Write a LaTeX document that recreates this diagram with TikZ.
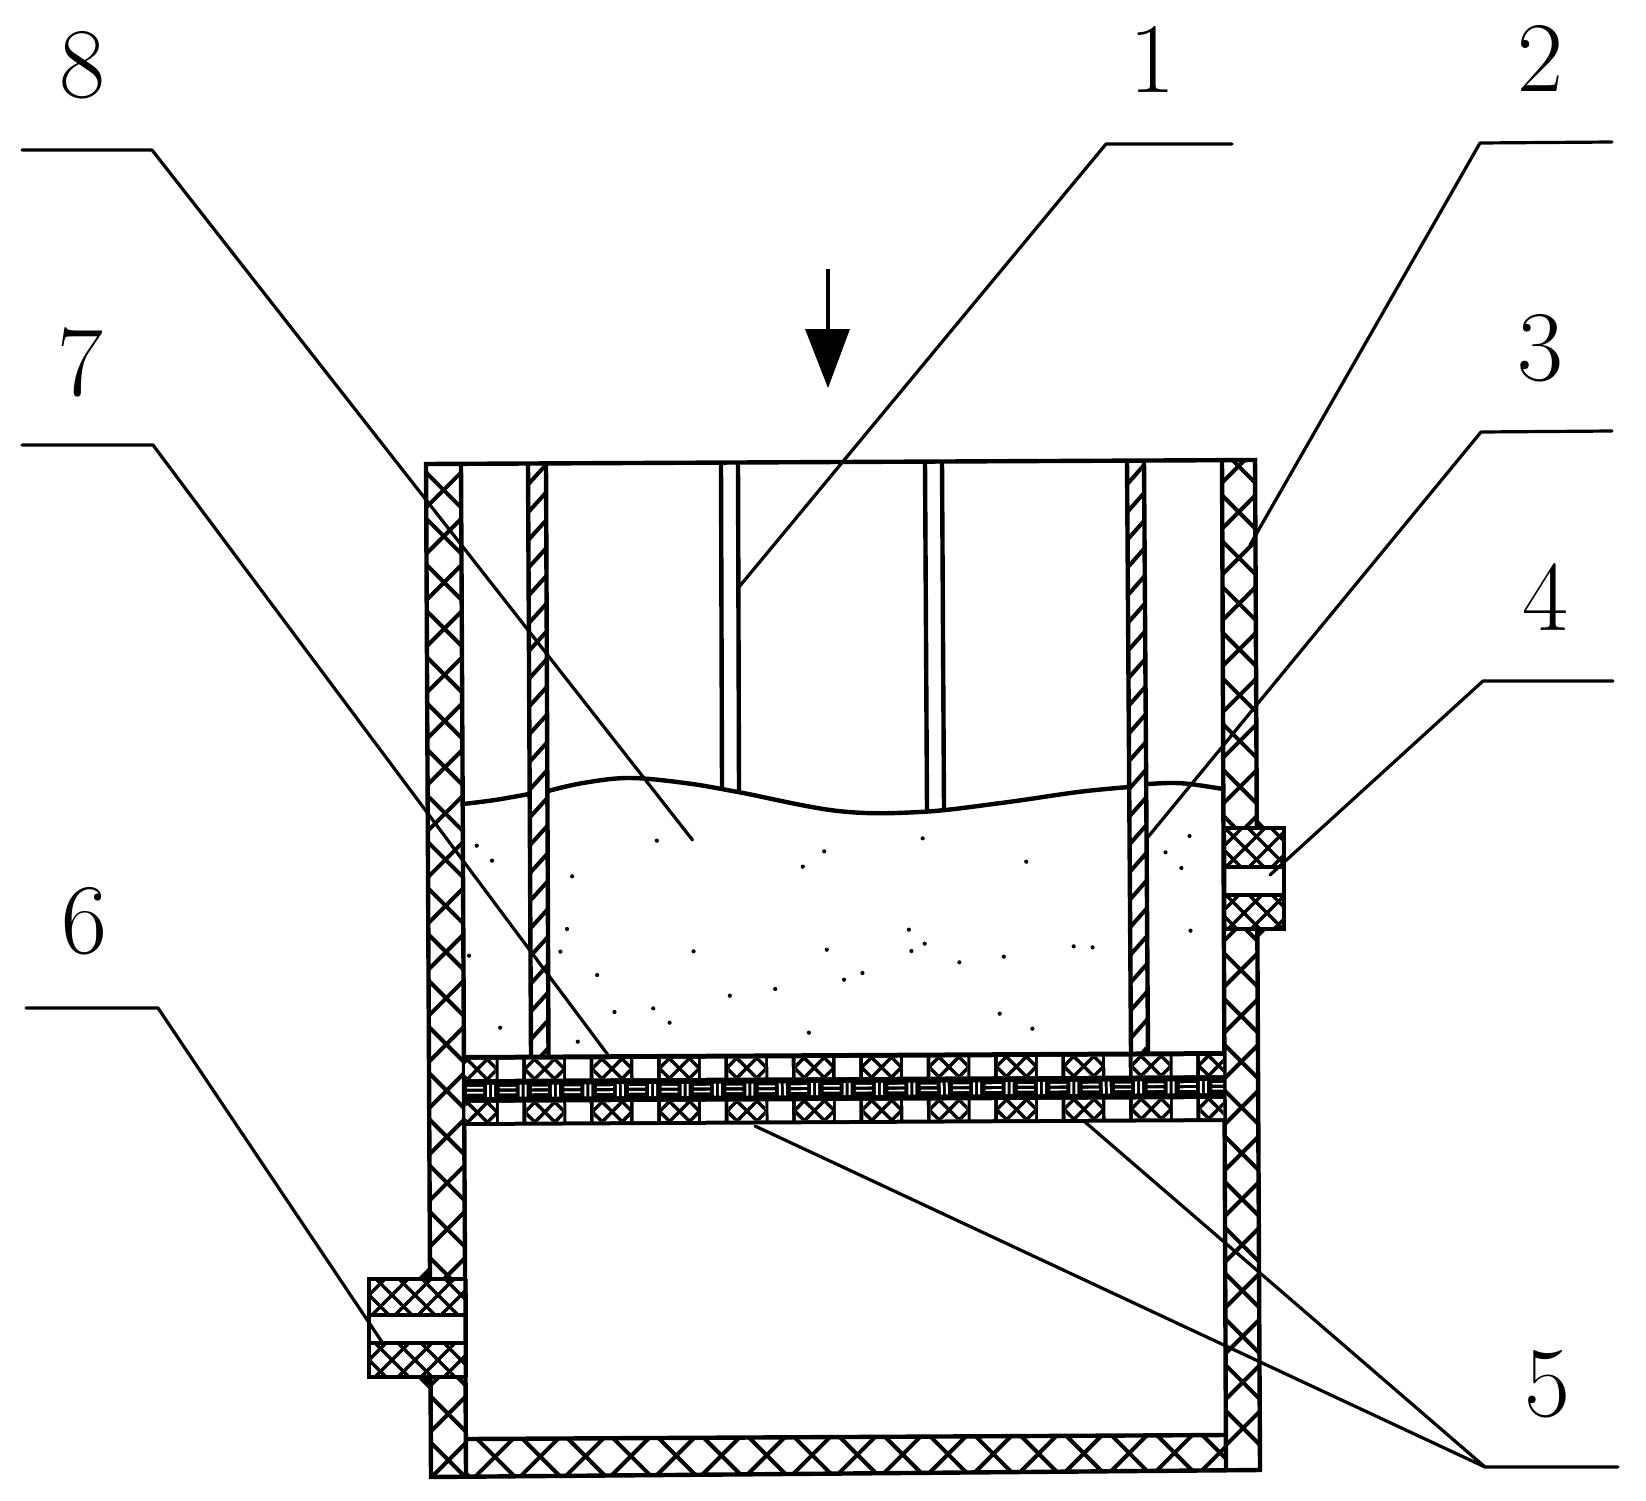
\documentclass[tikz,border=0pt]{standalone}
\usepackage{fontspec}
\newfontfamily\numfont{Latin Modern Roman}
\tikzset{
  wall/.style={line width=4.4pt,line join=miter,line cap=butt},
  hatchline/.style={line width=4pt},
  fine/.style={line width=3.4pt},
  leader/.style={line width=3.2pt,line join=round,line cap=round},
  numlabel/.style={inner sep=0pt,font=\numfont\fontsize{100}{100}\selectfont},
}
% big X in a wall
\newcommand{\bigX}[2]{%
  \draw[hatchline] ({#1-27},{#2-27}) -- ({#1+27},{#2+27});
  \draw[hatchline] ({#1-27},{#2+27}) -- ({#1+27},{#2-27});}
% crosshatch of a port block: clip rectangle x1 y1 x2 y2, crossing at px py
\newcommand{\portblock}[6]{%
  \begin{scope}
    \clip (#1,#2) rectangle (#3,#4);
    \foreach \k in {-6,...,6}{
      \draw[fine] ({#5+23*\k-60},{#6-60}) -- ({#5+23*\k+60},{#6+60});
      \draw[fine] ({#5+23*\k+60},{#6-60}) -- ({#5+23*\k-60},{#6+60});
    }
  \end{scope}}
% hatched tube: four corners as xTL xTR xBR xBL, yT yB
\newcommand{\tube}[6]{%
  \begin{scope}
    \clip (#1,#5) -- (#2,#5) -- (#3,#6) -- (#4,#6) -- cycle;
    \foreach \k in {-1,...,22}{
      \pgfmathsetmacro{\yy}{488+27.9*\k}
      \draw[hatchline] ({#1-5},{\yy+30}) -- ({#2+15},{\yy-12});
    }
  \end{scope}
  \draw[wall] (#1,#5) -- (#4,#6);
  \draw[wall] (#2,#5) -- (#3,#6);}
\begin{document}
\begin{tikzpicture}[x=1pt,y=-1pt]
\useasboundingbox (0,0) rectangle (1646,1501);
\fill[white] (0,0) rectangle (1646,1501);

% left wall
\begin{scope}
  \clip (426,464) -- (461,464) -- (466,1475) -- (431,1475) -- cycle;
  \foreach \k in {0,...,21}{
    \pgfmathsetmacro{\yy}{490+46.2*\k}
    \pgfmathsetmacro{\xx}{443.5+(\yy-464)*0.005}
    \bigX{\xx}{\yy}
  }
\end{scope}
% right wall
\begin{scope}
  \clip (1222,460) -- (1255,460) -- (1260,1470) -- (1226,1470) -- cycle;
  \foreach \k in {-1,...,20}{
    \pgfmathsetmacro{\yy}{512+45.8*\k}
    \pgfmathsetmacro{\xx}{1238.5+(\yy-460)*0.0047}
    \bigX{\xx}{\yy}
  }
\end{scope}
% bottom plate
\begin{scope}
  \clip (466,1439) -- (1226,1435) -- (1226,1470) -- (466,1475) -- cycle;
  \foreach \k in {-1,...,17}{
    \pgfmathsetmacro{\xx}{495+45.3*\k}
    \pgfmathsetmacro{\yy}{1457-(\xx-466)*0.0059}
    \bigX{\xx}{\yy}
  }
\end{scope}
% vessel outline
\draw[wall] (426,462) -- (431,1477) -- (1260,1470) -- (1255,458);
\draw[wall] (424,464) -- (1257,460);
\draw[wall] (461,464) -- (466,1475);
\draw[wall] (1222,460) -- (1226,1470);
\draw[wall] (466,1439) -- (1226,1435);

% left port
\fill[white] (369,1279) rectangle (464,1377);
\portblock{369}{1279}{466}{1315}{392}{1295}
\portblock{369}{1343}{466}{1377}{392}{1360}
\draw[wall] (466,1279) -- (369,1279) -- (369,1377) -- (466,1377);
\draw[wall] (369,1315) -- (464,1315);
\draw[wall] (369,1343) -- (464,1343);
\fill (417,1279) -- (429,1267) -- (429,1281) -- cycle;
\fill (417,1377) -- (431,1391) -- (431,1377) -- cycle;
\draw[wall] (465.5,1279) -- (465.8,1377);

% right port
\fill[white] (1224,828) rectangle (1284,929);
\portblock{1224}{828}{1284}{867}{1245}{848}
\portblock{1224}{895}{1284}{929}{1244}{913}
\draw[wall] (1224,828) -- (1284,828) -- (1284,929) -- (1224,929);
\draw[wall] (1224,867) -- (1284,867);
\draw[wall] (1224,895) -- (1284,895);
\fill (1256,828) -- (1256,818) -- (1266,828) -- cycle;
\fill (1257,929) -- (1257,939) -- (1267,929) -- cycle;
\draw[wall] (1224,828) -- (1224.3,929);

% inner hatched tubes
\tube{528}{546}{548.5}{531}{464}{1057}
\tube{1127}{1144}{1148}{1131}{461}{1055}

% thin tubes
\draw[wall] (721,464) -- (722,787);
\draw[wall] (738,463) -- (739,792);
\draw[wall] (925,462) -- (927,810);
\draw[wall] (942,462) -- (944,809);

% material surface
\draw[wall,line cap=round] plot[smooth,tension=0.6] coordinates {(463,804) (495,800) (529,794)};
\draw[wall,line cap=round] plot[smooth,tension=0.6] coordinates {(548,791) (583,783) (629,778) (685,783) (738,792) (838,811) (920,812) (1001,803) (1078,792) (1129,787)};
\draw[wall,line cap=round] plot[smooth,tension=0.6] coordinates {(1148,784) (1170,783) (1190,784) (1223,789)};

% grains
\foreach \X/\Y in {72/257,102/302,425/242,753/274,711/320,946/235,1149/305,259/349,1469/228,1422/277,1453/324,249/507,236/575,57/587,497/574,758/569,919/509,950/551,924/573,1018/607,1105/590,1242/559,1279/562,1471/512,308/645,828/639,792/659,657/687,568/707,418/745,342/756,450/788,1097/761,1161/806,118/803,723/818,270/845}{
  \fill ({440+\X/1.96},{760+\Y/3}) circle (2.1);
}

% filter band
\begin{scope}[shift={(465,1057)},rotate=0.3]
  \clip (0,-3) rectangle (758,71);
  \fill (0,-2) rectangle (758,69);
  \foreach \k in {-1,...,10}{
    \pgfmathsetmacro{\s}{61+67.4*\k}
    \foreach \rowtop in {3,46}{
      \fill[white] ({\s+40},\rowtop) rectangle ({\s+63.5},{\rowtop+19});
      \begin{scope}
        \clip (\s,\rowtop) rectangle ({\s+37},{\rowtop+19});
        \fill[white] (\s,\rowtop) rectangle ({\s+37},{\rowtop+19});
        \foreach \j in {-1,0,1}{
          \draw[fine] ({\s+18.5+20*\j-13},{\rowtop+9.5-13}) -- ({\s+18.5+20*\j+13},{\rowtop+9.5+13});
          \draw[fine] ({\s+18.5+20*\j+13},{\rowtop+9.5-13}) -- ({\s+18.5+20*\j-13},{\rowtop+9.5+13});
        }
      \end{scope}
    }
  }
  \foreach \k in {0,...,23}{
    \pgfmathsetmacro{\s}{2+32.4*\k}
    \fill[white] (\s,30) rectangle ({\s+16},31.6);
    \fill[white] (\s,35) rectangle ({\s+16},36.6);
    \fill[white] ({\s+20},28) rectangle ({\s+22},40);
    \fill[white] ({\s+25},28) rectangle ({\s+27},40);
  }
\end{scope}

% arrow
\coordinate (arrowtop) at (828,269);
\coordinate (arrowbase) at (828,330);
\coordinate (arrowtip) at (828,388);
\draw[line width=4pt] (arrowtop) -- (arrowbase);
\fill (805,329) -- (850,329) -- (arrowtip) -- cycle;

% leader anchors
\coordinate (a8) at (22,150);   \coordinate (b8) at (152,150);   \coordinate (c8) at (692.5,840);
\coordinate (a7) at (22,445);   \coordinate (b7) at (153,445);   \coordinate (c7) at (608,1055);
\coordinate (a1) at (1232,144); \coordinate (b1) at (1106,144);  \coordinate (c1) at (739,587);
\coordinate (a2) at (1612,142); \coordinate (b2) at (1480,143);  \coordinate (c2) at (1250,545);
\coordinate (a3) at (1612,431); \coordinate (b3) at (1481,432);  \coordinate (c3) at (1148,837);
\coordinate (a4) at (1613,681); \coordinate (b4) at (1483,681);  \coordinate (c4) at (1270,875);
\coordinate (a6) at (26,1008);  \coordinate (b6) at (158,1008);  \coordinate (c6) at (382,1342);
\coordinate (a5) at (1618,1467);\coordinate (b5) at (1485,1467);
\coordinate (c5) at (755,1126); \coordinate (d5) at (1085,1122);
\foreach \n in {8,7,1,2,3,4,6}{
  \draw[leader] (a\n) -- (b\n) -- (c\n);
}
\draw[leader] (a5) -- (b5) -- (c5);
\draw[leader] (b5) -- (d5);

% labels
\node[numlabel] (n8) at (82,65)    {8};
\node[numlabel] (n7) at (80,362)   {7};
\node[numlabel] (n1) at (1152,59)  {1};
\node[numlabel] (n2) at (1540,58)  {2};
\node[numlabel] (n3) at (1540,348) {3};
\node[numlabel] (n4) at (1545,597) {4};
\node[numlabel] (n5) at (1547,1384){5};
\node[numlabel] (n6) at (84,921)   {6};
\end{tikzpicture}
\end{document}
